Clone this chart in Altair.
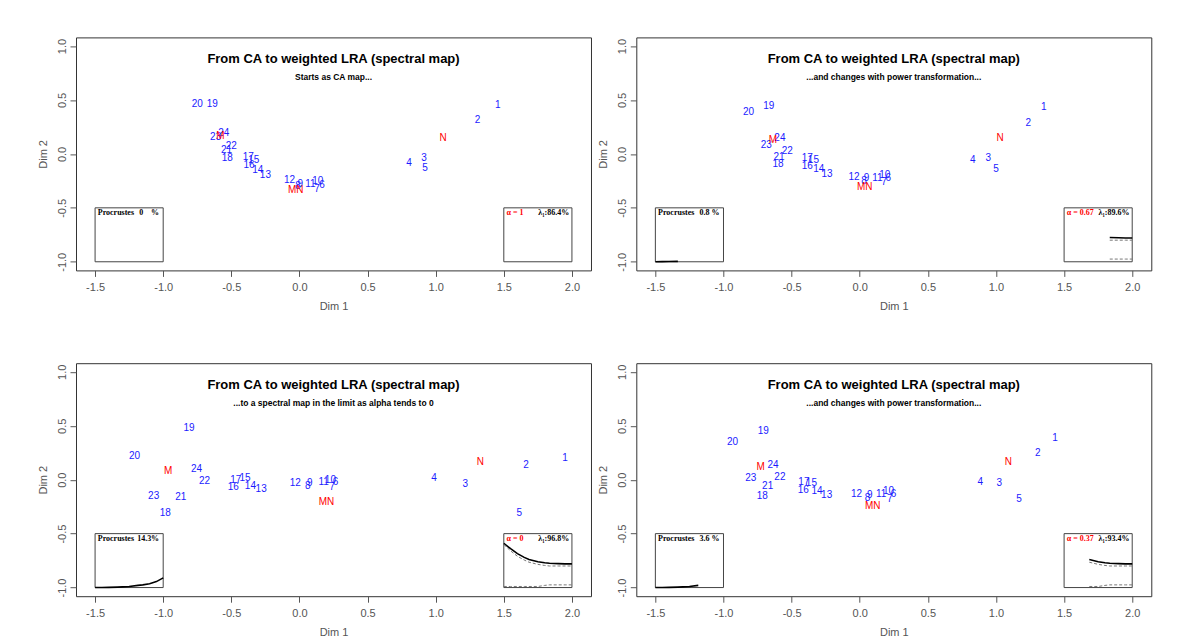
import altair as alt
import pandas as pd

# ---------------- data ----------------
row_labels = [str(i) for i in range(1, 25)]
col_labels = ["N", "M", "MN"]

titles = ["From CA to weighted LRA (spectral map)"] * 4
subtitles = [
    "Starts as CA map...",
    "...and changes with power transformation...",
    "...to a spectral map in the limit as alpha tends to 0",
    "...and changes with power transformation...",
]
alphas = [1.0, 0.67, 0.0, 0.37]
alpha_txt = ["\u03b1 = 1", "\u03b1 = 0.67", "\u03b1 = 0", "\u03b1 = 0.37"]
lambda_txt = ["\u03bb\u2081:86.4%", "\u03bb\u2081:89.6%", "\u03bb\u2081:96.8%", "\u03bb\u2081:93.4%"]
procrustes_txt = ["0\u00a0\u00a0\u00a0\u00a0%", "0.8 %", "14.3%", "3.6 %"]

# panel 1: alpha = 1 (CA)
rx1 = [1.455, 1.308, 0.915, 0.805, 0.922, 0.166, 0.13, -0.01, 0.007, 0.134, 0.08, -0.073,
       -0.25, -0.306, -0.335, -0.37, -0.376, -0.53, -0.64, -0.75, -0.535, -0.50, -0.615, -0.555]
ry1 = [0.45, 0.31, -0.04, -0.08, -0.127, -0.287, -0.327, -0.30, -0.275, -0.25, -0.275, -0.245,
       -0.20, -0.145, -0.06, -0.10, -0.028, -0.034, 0.466, 0.466, 0.034, 0.07, 0.157, 0.19]
cx1 = [1.054, -0.58, -0.027]
cy1 = [0.151, 0.17, -0.333]

# panel 2: alpha = 0.67
rx2 = [1.35, 1.238, 0.943, 0.829, 1.0, 0.21, 0.179, 0.032, 0.049, 0.184, 0.13, -0.042,
       -0.24, -0.30, -0.34, -0.385, -0.385, -0.60, -0.667, -0.816, -0.593, -0.532, -0.686, -0.586]
ry2 = [0.435, 0.29, -0.034, -0.056, -0.142, -0.225, -0.265, -0.25, -0.225, -0.20, -0.225, -0.213,
       -0.188, -0.139, -0.058, -0.11, -0.034, -0.095, 0.44, 0.39, -0.025, 0.031, 0.083, 0.148]
cx2 = [1.03, -0.637, 0.037]
cy2 = [0.151, 0.127, -0.306]

# panel 3: alpha = 0 (spectral map)
rx3 = [1.95, 1.663, 1.218, 0.988, 1.614, 0.264, 0.24, 0.061, 0.076, 0.227, 0.178, -0.03,
       -0.281, -0.36, -0.40, -0.486, -0.467, -0.985, -0.81, -1.21, -0.871, -0.697, -1.07, -0.756]
ry3 = [0.2, 0.136, -0.043, 0.016, -0.308, -0.019, -0.065, -0.058, -0.028, 0.0, -0.019, -0.034,
       -0.083, -0.058, 0.012, -0.071, 0.0, -0.308, 0.48, 0.22, -0.164, -0.016, -0.151, 0.099]
cx3 = [1.328, -0.963, 0.198]
cy3 = [0.16, 0.083, -0.21]

# panel 4: alpha = 0.37
rx4 = [1.434, 1.307, 1.024, 0.885, 1.169, 0.248, 0.221, 0.057, 0.074, 0.211, 0.157, -0.024,
       -0.243, -0.314, -0.355, -0.414, -0.41, -0.715, -0.708, -0.934, -0.676, -0.586, -0.80, -0.637]
ry4 = [0.39, 0.25, -0.028, -0.021, -0.182, -0.132, -0.176, -0.173, -0.145, -0.108, -0.132, -0.136,
       -0.139, -0.102, -0.031, -0.093, -0.025, -0.151, 0.447, 0.349, -0.062, 0.022, 0.019, 0.139]
cx4 = [1.09, -0.728, 0.096]
cy4 = [0.16, 0.114, -0.247]

row_x = [rx1, rx2, rx3, rx4]
row_y = [ry1, ry2, ry3, ry4]
col_x = [cx1, cx2, cx3, cx4]
col_y = [cy1, cy2, cy3, cy4]

# inset traces as alpha goes from 1 down to 0 (values in plot units)
trace_alpha = [1.0, 0.9, 0.8, 0.67, 0.6, 0.5, 0.37, 0.3, 0.2, 0.1, 0.0]
lam_solid = [-0.78, -0.78, -0.778, -0.775, -0.77, -0.76, -0.74, -0.72, -0.685, -0.64, -0.59]
lam_dash = [-0.80, -0.80, -0.80, -0.80, -0.795, -0.785, -0.765, -0.745, -0.71, -0.66, -0.60]
low_dash = [-0.975, -0.975, -0.975, -0.975, -0.98, -0.99, -0.99, -0.99, -0.99, -0.99, -0.99]
procr = [-1.0, -0.999, -0.998, -0.996, -0.994, -0.99, -0.98, -0.975, -0.965, -0.945, -0.91]

# inset frames [x1, x2, y1, y2]
box_x1 = [-1.5, 1.5]
box_x2 = [-1.0, 2.0]
box_y1 = [-1.0, -1.0]
box_y2 = [-0.5, -0.5]

# ---------------- chart ----------------
W, H = 515, 233
BLUE = "#1a1aff"
RED = "#ff0000"
AX = "#555555"
FRAME = "#333333"

xs = alt.Scale(domain=[-1.64, 2.14], nice=False, zero=False)
ys = alt.Scale(domain=[-1.08, 1.08], nice=False, zero=False)
lab_expr = "replace(format(datum.value, '.1f'), '\u2212', '-')"
xaxis = alt.Axis(values=[-1.5, -1.0, -0.5, 0.0, 0.5, 1.0, 1.5, 2.0], labelExpr=lab_expr,
                 title="Dim 1", grid=False, domain=False, tickSize=6, tickColor=AX,
                 labelColor=AX, labelFontSize=11, labelPadding=5, titleFontSize=11,
                 titleFontWeight="normal", titleColor=AX, titlePadding=8, labelFlush=False)
yaxis = alt.Axis(values=[-1.0, -0.5, 0.0, 0.5, 1.0], labelExpr=lab_expr, title="Dim 2",
                 grid=False, domain=False, tickSize=6, tickColor=AX, labelColor=AX,
                 labelFontSize=11, labelAngle=270, labelAlign="center", labelBaseline="bottom",
                 labelPadding=3, titleFontSize=11, titleFontWeight="normal", titleColor=AX,
                 titlePadding=8, labelFlush=False)


def X(field="x"):
    return alt.X(f"{field}:Q", scale=xs, axis=xaxis)


def Y(field="y"):
    return alt.Y(f"{field}:Q", scale=ys, axis=yaxis)


def panel(i):
    a = alphas[i]
    rows = pd.DataFrame({"x": row_x[i], "y": row_y[i], "lab": row_labels})
    cols = pd.DataFrame({"x": col_x[i], "y": col_y[i], "lab": col_labels})

    boxes = pd.DataFrame({"x": box_x1, "x2": box_x2, "y": box_y1, "y2": box_y2})
    box_layer = alt.Chart(boxes).mark_rect(fillOpacity=0, stroke="#444444", strokeWidth=1).encode(
        x=X(), x2="x2:Q", y=Y(), y2="y2:Q")

    tr = pd.DataFrame({"alpha": trace_alpha, "s": lam_solid, "d": lam_dash,
                       "l": low_dash, "p": procr})
    tr = tr[tr["alpha"] >= a - 1e-9].copy()
    tr["xr"] = 2.0 - 0.5 * (1 - tr["alpha"])
    tr["xl"] = -1.5 + 0.5 * (1 - tr["alpha"])

    solid = alt.Chart(tr).mark_line(color="black", strokeWidth=1.6).encode(
        x=X("xr"), y=Y("s"), order="alpha:Q")
    dash = alt.Chart(tr).mark_line(color="#777777", strokeWidth=1, strokeDash=[3, 2]).encode(
        x=X("xr"), y=Y("d"), order="alpha:Q")
    low = alt.Chart(tr).mark_line(color="#777777", strokeWidth=1, strokeDash=[3, 2]).encode(
        x=X("xr"), y=Y("l"), order="alpha:Q")
    pro = alt.Chart(tr).mark_line(color="black", strokeWidth=1.6).encode(
        x=X("xl"), y=Y("p"), order="alpha:Q")

    row_layer = alt.Chart(rows).mark_text(fontSize=10, color=BLUE, font="Liberation Sans").encode(
        x=X(), y=Y(), text="lab:N")
    col_layer = alt.Chart(cols).mark_text(fontSize=10, color=RED, font="Liberation Sans").encode(
        x=X(), y=Y(), text="lab:N")

    inset_txt = pd.DataFrame({
        "x": [-1.48, -1.03, 1.52, 1.98],
        "y": [-0.55, -0.55, -0.55, -0.55],
        "t": ["Procrustes", procrustes_txt[i], alpha_txt[i], lambda_txt[i]],
        "c": ["black", "black", RED, "black"],
        "al": ["left", "right", "left", "right"],
    })
    t_left = alt.Chart(inset_txt[inset_txt["al"] == "left"]).mark_text(
        fontSize=8, fontWeight="bold", font="Liberation Serif", align="left").encode(
        x=X(), y=Y(), text="t:N", color=alt.Color("c:N", scale=None))
    t_right = alt.Chart(inset_txt[inset_txt["al"] == "right"]).mark_text(
        fontSize=8, fontWeight="bold", font="Liberation Serif", align="right").encode(
        x=X(), y=Y(), text="t:N", color=alt.Color("c:N", scale=None))

    title = alt.Chart(pd.DataFrame({"t": [titles[i]]})).mark_text(
        fontSize=13, fontWeight="bold", font="Liberation Sans", color="black").encode(
        x=alt.value(W / 2), y=alt.value(21.6), text="t:N")
    subtitle = alt.Chart(pd.DataFrame({"t": [subtitles[i]]})).mark_text(
        fontSize=8.5, fontWeight="bold", font="Liberation Sans", color="black").encode(
        x=alt.value(W / 2), y=alt.value(39.6), text="t:N")

    return alt.layer(box_layer, solid, dash, low, pro, row_layer, col_layer,
                     t_left, t_right, title, subtitle).properties(
        width=W, height=H, view=alt.ViewBackground(stroke=FRAME, strokeWidth=1))


chart = alt.concat(panel(0), panel(1), panel(2), panel(3), columns=2,
                   spacing={"row": 92.8, "column": 45.3}, bounds="flush").properties(
    padding={"left": 28, "top": 28.4, "right": 5, "bottom": 5},
    background="white",
).configure_view(stroke=FRAME, strokeWidth=1).configure(font="Liberation Sans")

chart.save("out.html", embed_options={"renderer": "svg", "actions": False})
